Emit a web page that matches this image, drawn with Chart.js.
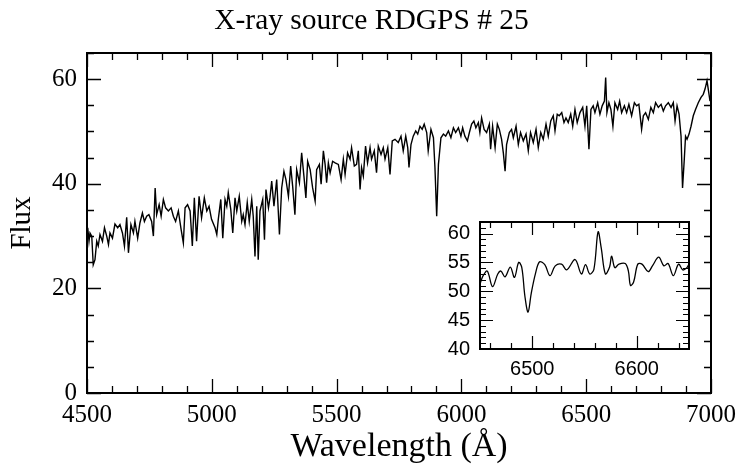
<!DOCTYPE html>
<html>
<head>
<meta charset="utf-8">
<script src="https://cdn.jsdelivr.net/npm/chart.js@4.4.1/dist/chart.umd.min.js"></script>
<style>
  html, body { margin: 0; padding: 0; background: #fff; }
  #wrap { position: relative; width: 743px; height: 468px; }
  #main { position: absolute; left: 0; top: 0; width: 743px; height: 468px; }
  #inset { position: absolute; left: 420px; top: 200px; width: 290px; height: 200px; }
</style>
</head>
<body>
<div id="wrap">
  <canvas id="main" width="743" height="468"></canvas>
  <canvas id="inset" width="290" height="200"></canvas>
</div>
<script>
// phổ chính
const mainWave = [
  4503, 4508, 4512, 4519, 4525, 4532, 4539, 4545, 4552, 4562, 4570, 4579, 4586, 4592, 4602, 4612,
  4623, 4632, 4642, 4650, 4659, 4666, 4676, 4686, 4692, 4703, 4712, 4722, 4730, 4739, 4748, 4759,
  4766, 4773, 4779, 4789, 4797, 4806, 4815, 4826, 4837, 4846, 4855, 4866, 4877, 4886, 4893, 4903,
  4913, 4922, 4930, 4939, 4949, 4959, 4970, 4980, 4989, 4999,
  5013, 5020, 5026, 5036, 5044, 5053, 5060, 5066, 5076, 5084, 5093, 5100, 5110, 5120, 5126, 5133,
  5142, 5150, 5160, 5166, 5173, 5180, 5186, 5193, 5204, 5211, 5217, 5227, 5233, 5240, 5249, 5260,
  5271, 5280, 5289, 5297, 5307, 5316, 5324, 5333, 5340, 5351, 5360, 5369, 5377, 5384, 5394, 5404,
  5414, 5420, 5431, 5438, 5447, 5454, 5460, 5467, 5474, 5484, 5494,
  5507, 5518, 5527, 5534, 5544, 5554, 5560, 5571, 5580, 5587, 5594, 5600, 5607, 5616, 5624, 5634,
  5640, 5651, 5660, 5667, 5678, 5687, 5694, 5705, 5714, 5723, 5734, 5747, 5758, 5767, 5777, 5785,
  5790, 5798, 5807, 5817, 5825, 5834, 5843, 5851, 5861, 5867, 5878, 5888, 5894, 5901, 5908, 5918,
  5928, 5937, 5948, 5958, 5968, 5977, 5988, 5998,
  6005, 6014, 6024, 6032, 6041, 6050, 6058, 6068, 6074, 6081, 6091, 6101, 6112, 6117, 6125, 6135,
  6144, 6152, 6161, 6168, 6175, 6181, 6192, 6201, 6208, 6219, 6228, 6237, 6248, 6259, 6268, 6277,
  6288, 6299, 6308, 6318, 6328, 6339, 6348, 6358, 6368, 6375, 6384, 6392, 6402, 6411, 6419, 6428,
  6438, 6446, 6455, 6464, 6475, 6486, 6495, 6502,
  6511, 6519, 6528, 6535, 6546, 6555, 6564, 6573, 6578, 6583, 6591, 6599, 6607, 6615, 6626, 6634,
  6642, 6653, 6662, 6671, 6682, 6693, 6702, 6711, 6722, 6729, 6738, 6749, 6759, 6769, 6778, 6789,
  6800, 6809, 6818, 6829, 6840, 6849, 6856, 6864, 6872, 6880, 6886, 6893, 6898, 6904, 6912, 6920,
  6929, 6938, 6949, 6960, 6969, 6976, 6984, 6989, 6996,
];
const mainFlux = [
  31.6, 29.0, 30.6, 30.0, 24.5, 25.5, 29.0, 28.1, 30.3, 29.0, 31.6, 30.0, 28.4, 30.6, 29.6, 32.3,
  31.6, 32.2, 30.6, 28.1, 33.6, 26.8, 32.2, 30.6, 32.8, 29.6, 32.5, 34.4, 32.8, 33.8, 34.1, 32.8,
  30.0, 39.2, 34.1, 36.0, 33.8, 37.0, 35.4, 34.8, 35.4, 33.8, 32.8, 34.8, 31.3, 28.7, 35.4, 36.0,
  34.8, 28.1, 37.3, 29.0, 37.6, 33.5, 37.3, 34.8, 35.7, 33.2,
  31.6, 30.3, 33.2, 37.0, 29.6, 37.0, 35.7, 38.3, 35.1, 30.6, 37.3, 34.8, 37.6, 32.8, 34.1, 32.2,
  36.4, 32.8, 37.0, 33.8, 26.1, 35.7, 25.5, 34.8, 37.0, 29.3, 38.9, 35.4, 37.3, 40.5, 35.7, 40.8,
  30.3, 39.2, 42.4, 40.8, 37.6, 43.4, 39.5, 34.1, 42.7, 40.2, 45.9, 41.5, 37.3, 44.3, 42.7, 39.2,
  36.7, 42.7, 43.7, 39.9, 46.3, 43.7, 40.2, 44.0, 42.1, 44.3, 44.0,
  43.7, 40.8, 44.7, 41.8, 45.9, 44.7, 46.9, 43.4, 43.7, 46.3, 38.9, 43.1, 41.5, 47.2, 44.0, 46.9,
  44.7, 46.3, 42.1, 47.2, 45.6, 46.9, 44.7, 46.9, 41.8, 48.2, 48.5, 47.9, 49.1, 46.3, 49.1, 46.9,
  43.1, 47.5, 49.1, 50.1, 49.5, 51.0, 50.4, 51.4, 49.8, 46.3, 50.4, 48.8, 43.1, 33.8, 43.7, 48.8,
  49.5, 49.1, 50.1, 48.8, 50.7, 49.8, 50.7, 49.1,
  50.7, 49.1, 48.2, 49.8, 51.4, 52.0, 50.7, 51.7, 49.8, 52.6, 50.4, 49.8, 51.4, 46.6, 51.0, 46.9,
  51.4, 50.4, 48.5, 45.9, 42.4, 47.5, 49.8, 50.4, 48.8, 51.0, 47.5, 49.8, 48.2, 49.5, 46.3, 49.8,
  47.9, 50.4, 46.9, 49.8, 48.5, 51.4, 49.1, 52.0, 53.0, 50.1, 53.3, 53.0, 53.6, 51.7, 52.6, 51.7,
  53.3, 51.0, 54.2, 51.7, 53.6, 54.6, 51.0, 54.9,
  46.6, 54.2, 54.9, 53.6, 55.5, 53.3, 54.9, 55.8, 60.3, 53.6, 55.5, 54.2, 51.0, 55.5, 54.2, 55.8,
  53.6, 54.9, 53.6, 55.2, 53.0, 55.5, 54.9, 55.2, 50.4, 53.0, 53.6, 52.3, 54.6, 53.6, 55.5, 54.6,
  55.2, 53.9, 54.9, 55.5, 54.6, 55.5, 52.0, 54.9, 53.3, 49.1, 39.2, 44.7, 49.1, 48.5, 49.5, 51.0,
  53.0, 54.2, 55.5, 56.5, 57.1, 58.1, 59.7, 58.1, 55.8,
];

// khung phóng to quanh H-alpha
const insetWave = [
  6450, 6453, 6457, 6462, 6467, 6470, 6474, 6479, 6483, 6487, 6490, 6493, 6496, 6499, 6503, 6507,
  6512, 6517, 6522, 6528, 6533, 6541, 6547, 6551, 6555, 6559, 6563, 6566, 6570, 6574, 6576, 6579,
  6583, 6589, 6592, 6594, 6597, 6601, 6605, 6611, 6615, 6621, 6626, 6630, 6635, 6640, 6644, 6648, 6650,
];
const insetFlux = [
  51.3, 52.7, 53.5, 50.8, 53.0, 53.5, 52.5, 54.2, 52.4, 55.0, 54.1, 49.1, 46.4, 49.6, 53.0, 55.1,
  54.6, 52.7, 54.4, 54.7, 53.7, 55.5, 53.0, 54.6, 53.0, 53.8, 60.3, 57.5, 53.0, 54.2, 56.1, 54.1,
  54.7, 54.8, 53.5, 51.0, 51.6, 54.7, 54.7, 53.4, 54.4, 55.9, 54.4, 54.8, 52.7, 54.7, 53.7, 54.1, 54.7,
];

// nhãn trục
const mainXTicks = [4500, 5000, 5500, 6000, 6500, 7000];
const mainYTicks = [0, 20, 40, 60];
const insetXTicks = [6500, 6600];
const insetYTicks = [40, 45, 50, 55, 60];

const toPoints = (xs, ys) => xs.map((x, i) => ({ x: x, y: ys[i] }));
const fixTicks = (list) => (s) => {
  s.ticks = list.map((v) => ({ value: v }));
};

// vẽ khung và vạch chia hướng vào trong
const frameTicks = {
  id: "frameTicks",
  afterDatasetsDraw(chart, args, o) {
    const { ctx, chartArea: a } = chart;
    const x = chart.scales.x;
    const y = chart.scales.y;
    ctx.save();
    ctx.strokeStyle = "#000";
    ctx.lineWidth = o.tickWidth;
    ctx.beginPath();
    for (let v = Math.ceil(x.min / o.xMinor) * o.xMinor; v <= x.max + 1e-6; v += o.xMinor) {
      const px = Math.round(x.getPixelForValue(v)) + 0.5;
      const len = Math.abs(v % o.xMajor) < 1e-6 ? o.majorLen : o.minorLen;
      ctx.moveTo(px, a.bottom);
      ctx.lineTo(px, a.bottom - len);
      ctx.moveTo(px, a.top);
      ctx.lineTo(px, a.top + len);
    }
    for (let v = Math.ceil(y.min / o.yMinor) * o.yMinor; v <= y.max + 1e-6; v += o.yMinor) {
      const py = Math.round(y.getPixelForValue(v)) + 0.5;
      const len = Math.abs(v % o.yMajor) < 1e-6 ? o.majorLen : o.minorLen;
      ctx.moveTo(a.left, py);
      ctx.lineTo(a.left + len, py);
      ctx.moveTo(a.right, py);
      ctx.lineTo(a.right - len, py);
    }
    ctx.stroke();
    ctx.lineWidth = o.frameWidth;
    ctx.strokeRect(a.left, a.top, a.right - a.left, a.bottom - a.top);
    ctx.restore();
  },
};

const serif = "'Liberation Serif', 'Times New Roman', serif";
const sans = "'Liberation Sans', Arial, sans-serif";

const mainChart = new Chart(document.getElementById("main"), {
  type: "scatter",
  data: {
    datasets: [
      {
        data: toPoints(mainWave, mainFlux),
        showLine: true,
        borderColor: "#000",
        borderWidth: 1.4,
        pointRadius: 0,
        tension: 0,
      },
    ],
  },
  options: {
    responsive: false,
    animation: false,
    layout: { padding: 0 },
    plugins: {
      legend: { display: false },
      tooltip: { enabled: false },
      title: {
        display: true,
        text: "X-ray source RDGPS # 25",
        color: "#000",
        font: { family: serif, size: 29.5, weight: "normal" },
        padding: { top: 4, bottom: 13.6 },
      },
      frameTicks: { xMinor: 100, xMajor: 500, yMinor: 5, yMajor: 20, minorLen: 7, majorLen: 14, tickWidth: 1.3, frameWidth: 2 },
    },
    scales: {
      x: {
        type: "linear",
        min: 4500,
        max: 7000,
        afterBuildTicks: fixTicks(mainXTicks),
        afterFit: (s) => { s.height = 75; },
        grid: { display: false, drawTicks: false },
        border: { display: false },
        ticks: {
          color: "#000",
          padding: 7,
          maxRotation: 0,
          font: { family: serif, size: 25 },
          callback: (v) => String(v),
        },
        title: {
          display: true,
          text: "Wavelength (Å)",
          color: "#000",
          font: { family: serif, size: 34 },
          padding: { bottom: 1 },
        },
      },
      y: {
        type: "linear",
        min: 0,
        max: 65,
        afterBuildTicks: fixTicks(mainYTicks),
        afterFit: (s) => { s.width = 87; },
        grid: { display: false, drawTicks: false },
        border: { display: false },
        ticks: {
          color: "#000",
          padding: 10,
          font: { family: serif, size: 25 },
          callback: (v) => String(v),
        },
        title: {
          display: true,
          text: "Flux",
          color: "#000",
          font: { family: serif, size: 29 },
          padding: { top: 5 },
        },
      },
      // trục phải trống, chỉ để chừa lề cho nhãn 7000
      yRight: {
        type: "linear",
        position: "right",
        min: 0,
        max: 65,
        afterFit: (s) => { s.width = 32; },
        grid: { display: false, drawTicks: false },
        border: { display: false },
        ticks: { display: false },
      },
    },
  },
  plugins: [frameTicks],
});

const insetChart = new Chart(document.getElementById("inset"), {
  type: "scatter",
  data: {
    datasets: [
      {
        data: toPoints(insetWave, insetFlux),
        showLine: true,
        borderColor: "#000",
        borderWidth: 1.3,
        pointRadius: 0,
        tension: 0.35,
      },
    ],
  },
  options: {
    responsive: false,
    animation: false,
    layout: { padding: { left: 0, right: 21, top: 18, bottom: 0 } },
    plugins: {
      legend: { display: false },
      tooltip: { enabled: false },
      frameTicks: { xMinor: 20, xMajor: 100, yMinor: 1, yMajor: 5, minorLen: 6, majorLen: 13, tickWidth: 1.2, frameWidth: 2 },
    },
    scales: {
      x: {
        type: "linear",
        min: 6450,
        max: 6650,
        afterBuildTicks: fixTicks(insetXTicks),
        afterFit: (s) => { s.height = 51; },
        grid: { display: false, drawTicks: false },
        border: { display: false },
        ticks: {
          color: "#000",
          padding: 8,
          maxRotation: 0,
          font: { family: sans, size: 20 },
          callback: (v) => String(v),
        },
      },
      y: {
        type: "linear",
        min: 40,
        max: 62,
        afterBuildTicks: fixTicks(insetYTicks),
        afterFit: (s) => { s.width = 60; },
        grid: { display: false, drawTicks: false },
        border: { display: false },
        ticks: {
          color: "#000",
          padding: 10,
          font: { family: sans, size: 20 },
          callback: (v) => String(v),
        },
      },
    },
  },
  plugins: [frameTicks],
});
</script>
</body>
</html>
